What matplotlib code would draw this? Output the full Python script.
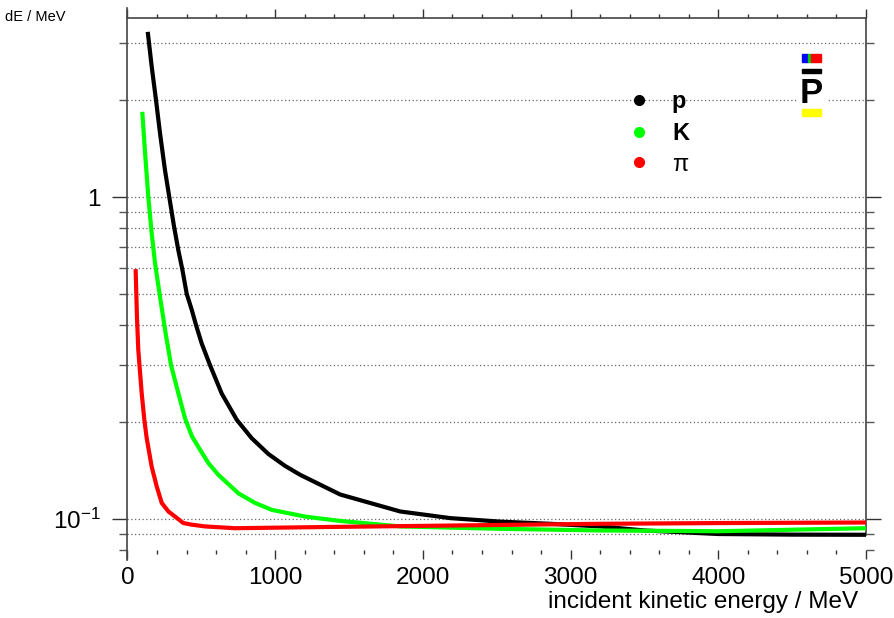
import matplotlib
matplotlib.use("Agg")
import matplotlib.pyplot as plt
from matplotlib.lines import Line2D
from matplotlib.patches import Rectangle
import numpy as np

plt.rcParams['font.family'] = ['Liberation Sans', 'DejaVu Sans']
plt.rcParams['mathtext.fontset'] = 'custom'
plt.rcParams['mathtext.rm'] = 'Liberation Sans'

# ---- data ----
T_p = [137, 164, 193, 220, 254, 288, 315, 344, 372, 401, 435, 464, 502, 559,
       638, 740, 841, 954, 1067, 1169, 1440, 1846, 2185, 2524, 2862, 3201,
       3500, 4000, 4500, 5000]
dE_p = [3.26, 2.54, 2.0, 1.58, 1.21, 0.967, 0.81, 0.684, 0.593, 0.5, 0.446,
        0.4, 0.351, 0.3, 0.245, 0.203, 0.178, 0.159, 0.146, 0.137, 0.119, 0.1054,
        0.1005, 0.098, 0.0965, 0.0947, 0.092, 0.0897, 0.0893, 0.0892]

T_K = [100, 119, 141, 164, 186, 220, 259, 295, 333, 390, 435, 491, 548,
       615, 751, 864, 977, 1203, 1338, 1440, 1846, 2524, 3201, 4000, 5000]
dE_K = [1.84, 1.37, 1.0, 0.77, 0.625, 0.49, 0.375, 0.3, 0.257, 0.205, 0.181,
        0.164, 0.149, 0.137, 0.120, 0.112, 0.1066, 0.1016, 0.0998, 0.0985,
        0.0947, 0.0931, 0.092, 0.0915, 0.0935]

T_pi = [55, 64, 73, 96, 114, 130, 164, 198, 232, 277, 322, 378, 435, 525, 728,
        1112, 1338, 2185, 3201, 4000, 5000]
dE_pi = [0.597, 0.425, 0.335, 0.246, 0.203, 0.178, 0.145, 0.126, 0.112, 0.1054,
         0.1016, 0.097, 0.0959, 0.0947, 0.0935, 0.094, 0.0943, 0.0953, 0.0965,
         0.097, 0.0974]

series_names = ['p', 'K', 'π']
series_colors = ['#000000', '#00ff00', '#ff0000']

x_major = [0, 1000, 2000, 3000, 4000, 5000]
x_labels = ['0', '1000', '2000', '3000', '4000', '5000']
y_major = [0.1, 1]
y_labels = [r'$\mathregular{10^{-1}}$', '1']
y_minor = [0.08, 0.09, 0.2, 0.3, 0.4, 0.5, 0.6, 0.7, 0.8, 0.9, 2, 3]
grid_vals = [0.09, 0.1, 0.2, 0.3, 0.4, 0.5, 0.6, 0.7, 0.8, 0.9, 1, 2, 3]

W, H = 894, 618
fig = plt.figure(figsize=(W / 100, H / 100), dpi=100)
x0, x1, ytop, ybot = 127.5, 866, 18, 550
ax = fig.add_axes([x0 / W, 1 - ybot / H, (x1 - x0) / W, (ybot - ytop) / H])

ax.set_xlim(0, 5000)
ax.set_yscale('log')
ax.set_ylim(0.08, 3.6)

# grid lines
ax.hlines(grid_vals, 0, 5000, colors='#666666', linestyles=(0, (1, 2)),
          linewidth=0.9, zorder=1)

for T, dE, c in zip([T_p, T_K, T_pi], [dE_p, dE_K, dE_pi], series_colors):
    ax.plot(T, dE, color=c, lw=3.0, solid_capstyle='butt',
            solid_joinstyle='round', zorder=3)

ax.set_xticks(x_major)
ax.set_xticklabels(x_labels)
ax.set_xticks(np.arange(0, 5001, 200), minor=True)
ax.set_yticks(y_major)
ax.set_yticklabels(y_labels)
ax.set_yticks(y_minor, minor=True)
ax.yaxis.set_minor_formatter(matplotlib.ticker.NullFormatter())

ax.tick_params(axis='x', which='major', direction='out', length=6.5, width=1,
               labelsize=17.5, pad=6, top=True, color='#333333')
ax.tick_params(axis='x', which='minor', direction='out', length=3, width=1,
               top=True, color='#333333')
ax.tick_params(axis='y', which='major', direction='out', length=11, width=1,
               labelsize=17.5, pad=8, right=True, color='#333333')
ax.tick_params(axis='y', which='minor', direction='out', length=6, width=1,
               right=True, color='#555555')

for s in ['left', 'top', 'right']:
    ax.spines[s].set_color('#444444')
    ax.spines[s].set_linewidth(1.2)
ax.spines['bottom'].set_visible(False)
ax.spines['left'].set_bounds(0.0746, 3.86)
ax.spines['right'].set_bounds(0.0892, 3.6)

# legend
handles = [Line2D([], [], marker='o', ls='', color=c, markersize=7)
           for c in series_colors]
leg = ax.legend(handles, series_names, loc='upper left',
                bbox_to_anchor=(0.67, 0.882), frameon=False, fontsize=17,
                handlelength=0.6, handletextpad=1.1, labelspacing=0.37,
                borderaxespad=0)
for t, w in zip(leg.get_texts(), ['bold', 'bold', 'normal']):
    t.set_fontweight(w)

# labels
fig.text(5 / W, 1 - 17 / H, 'dE / MeV', fontsize=10.5, ha='left', va='center')
fig.text(858 / W, 1 - 608 / H, 'incident kinetic energy / MeV', fontsize=17.5,
         ha='right', va='baseline')

# logo (P-bar)
def frect(xa, ya, xb, yb, color):
    fig.patches.append(Rectangle((xa / W, 1 - yb / H), (xb - xa) / W, (yb - ya) / H,
                                 transform=fig.transFigure, color=color,
                                 zorder=5))
frect(797, 50, 826, 118, 'white')
frect(801.5, 54.5, 808, 61.5, '#0000ff')
frect(808, 54.5, 811, 61.5, '#00cc00')
frect(811, 54.5, 820.5, 61.5, '#ff0000')
frect(801.5, 69, 820.5, 72.5, '#000000')
frect(801.5, 108.5, 820.5, 116, '#ffff00')
fig.text(811 / W, 1 - 103 / H, 'P', fontsize=25, fontweight='bold',
         ha='center', va='baseline', zorder=6)

fig.savefig('out.png', dpi=100)
